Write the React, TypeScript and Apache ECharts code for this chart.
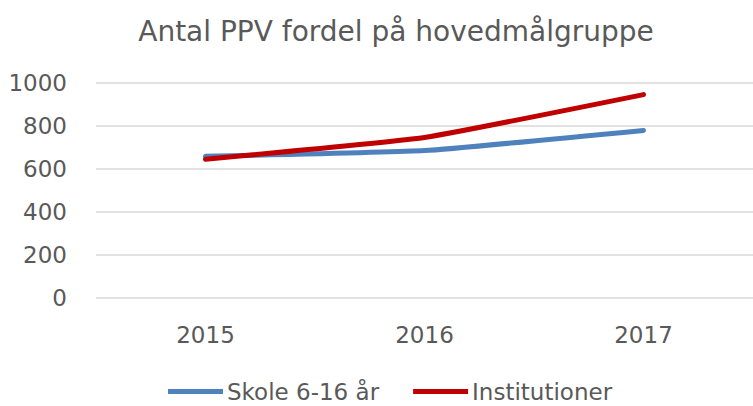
import React, { useEffect, useRef } from "react";
import * as echarts from "echarts";

const categories = ["2015", "2016", "2017"];
const skole = [658, 685, 779];
const institutioner = [645, 746, 946];
const seriesNames = ["Skole 6-16 år", "Institutioner"];

export default function App() {
  const ref = useRef<HTMLDivElement>(null);
  useEffect(() => {
    const chart = echarts.init(ref.current!, null, { renderer: "svg" });
    const font = "'DejaVu Sans', sans-serif";
    chart.setOption({
      animation: false,
      title: {
        text: "Antal PPV fordel på hovedmålgruppe",
        left: 391,
        textAlign: "center",
        top: 12,
        textStyle: { fontFamily: font, fontSize: 28, fontWeight: "normal", color: "#595959" },
      },
      grid: { left: 96, width: 666, top: 83, height: 214.5 },
      xAxis: {
        type: "category",
        data: categories,
        axisLine: { show: false },
        axisTick: { show: false },
        axisLabel: { fontFamily: font, fontSize: 23, color: "#595959", margin: 26 },
      },
      yAxis: {
        type: "value",
        min: 0,
        max: 1000,
        interval: 200,
        axisLabel: {
          fontFamily: font,
          fontSize: 23,
          color: "#595959",
          margin: 29,
          formatter: (v: number) => String(v),
        },
        splitLine: { lineStyle: { color: "#D9D9D9", width: 1.5 } },
      },
      legend: {
        bottom: -2,
        left: 163,
        itemWidth: 55,
        itemHeight: 5,
        itemGap: 34,
        textStyle: { fontFamily: font, fontSize: 23, color: "#595959", padding: [0, 0, 0, -1] },
        data: seriesNames.map((n) => ({ name: n, icon: "rect" })),
      },
      series: [
        {
          name: seriesNames[0],
          type: "line",
          data: skole,
          symbol: "none",
          smooth: 0.12,
          lineStyle: { color: "#4F81BD", width: 5, cap: "round" },
          itemStyle: { color: "#4F81BD" },
        },
        {
          name: seriesNames[1],
          type: "line",
          data: institutioner,
          symbol: "none",
          smooth: 0.12,
          lineStyle: { color: "#C00000", width: 5, cap: "round" },
          itemStyle: { color: "#C00000" },
        },
      ],
    });
    return () => chart.dispose();
  }, []);
  return <div ref={ref} style={{ width: 753, height: 406, position: "absolute", left: 0, top: 0 }} />;
}
